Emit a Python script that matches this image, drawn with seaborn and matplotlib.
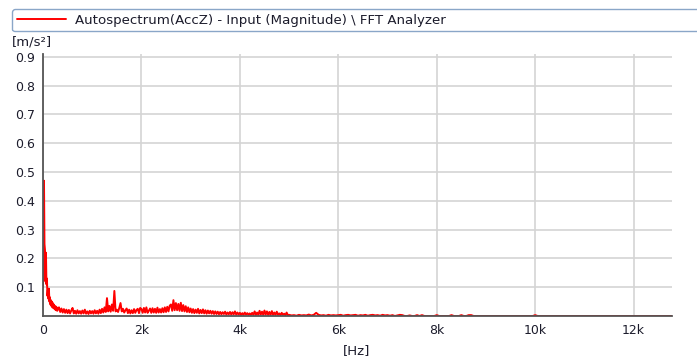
import numpy as np
import pandas as pd
import matplotlib
matplotlib.use("Agg")
import matplotlib.pyplot as plt
import seaborn as sns

# Autospectrum magnitude of AccZ, 10 Hz bins from 0 to 300 Hz
mag_0_300 = [
    0.1, 0.3, 0.47, 0.25, 0.23, 0.12, 0.22, 0.11, 0.13, 0.07,
    0.09, 0.06, 0.095, 0.05, 0.065, 0.04, 0.055, 0.035, 0.05, 0.03,
    0.045, 0.028, 0.04, 0.025, 0.035, 0.022, 0.033, 0.02, 0.03, 0.018,
]

# 25 Hz bins from 300 Hz to 5 kHz
mag_300_5k = [
    # 300 - 500 Hz
    0.025, 0.03, 0.014, 0.026, 0.012, 0.024, 0.011, 0.022,
    # 500 - 1000 Hz
    0.01, 0.021, 0.009, 0.019, 0.028, 0.009, 0.018, 0.008, 0.02, 0.009,
    0.017, 0.008, 0.019, 0.009, 0.022, 0.008, 0.016, 0.007, 0.018, 0.009,
    # 1000 - 1500 Hz
    0.017, 0.008, 0.02, 0.009, 0.018, 0.008, 0.022, 0.01, 0.025, 0.012,
    0.03, 0.014, 0.062, 0.016, 0.035, 0.015, 0.04, 0.018, 0.087, 0.016,
    # 1500 - 2000 Hz
    0.022, 0.014, 0.028, 0.045, 0.016, 0.025, 0.012, 0.02, 0.026, 0.01,
    0.022, 0.009, 0.02, 0.01, 0.024, 0.011, 0.021, 0.025, 0.01, 0.028,
    # 2000 - 2500 Hz
    0.024, 0.011, 0.028, 0.012, 0.03, 0.011, 0.018, 0.026, 0.011, 0.027,
    0.012, 0.025, 0.011, 0.029, 0.012, 0.024, 0.012, 0.027, 0.013, 0.03,
    # 2500 - 3000 Hz
    0.014, 0.032, 0.016, 0.036, 0.04, 0.018, 0.055, 0.02, 0.045, 0.02,
    0.042, 0.018, 0.046, 0.017, 0.038, 0.016, 0.034, 0.014, 0.03, 0.013,
    # 3000 - 3500 Hz
    0.026, 0.011, 0.024, 0.01, 0.022, 0.011, 0.025, 0.009, 0.021, 0.01,
    0.023, 0.009, 0.02, 0.008, 0.019, 0.009, 0.018, 0.008, 0.017, 0.007,
    # 3500 - 4000 Hz
    0.016, 0.007, 0.015, 0.006, 0.014, 0.006, 0.013, 0.007, 0.015, 0.005,
    0.012, 0.006, 0.014, 0.005, 0.013, 0.006, 0.016, 0.005, 0.012, 0.005,
    # 4000 - 4500 Hz
    0.011, 0.004, 0.01, 0.004, 0.012, 0.005, 0.01, 0.004, 0.009, 0.004,
    0.011, 0.004, 0.016, 0.004, 0.012, 0.004, 0.018, 0.005, 0.015, 0.004,
    # 4500 - 5000 Hz
    0.019, 0.005, 0.016, 0.004, 0.014, 0.004, 0.017, 0.004, 0.012, 0.004,
    0.015, 0.004, 0.009, 0.003, 0.011, 0.004, 0.008, 0.003, 0.012, 0.003,
]

# 50 Hz bins from 5 kHz to 9 kHz
mag_5_9k = [
    0.004, 0.002, 0.003, 0.001, 0.004, 0.002, 0.003, 0.002, 0.005, 0.002,
    0.004, 0.011, 0.004, 0.002, 0.003, 0.001, 0.004, 0.002, 0.003, 0.002,
    0.003, 0.004, 0.001, 0.003, 0.004, 0.002, 0.003, 0.004, 0.001, 0.003,
    0.002, 0.004, 0.001, 0.003, 0.004, 0.002, 0.003, 0.001, 0.004, 0.002,
    0.003, 0.001, 0.003, 0.0, 0.002, 0.004, 0.003, 0.0, 0.0, 0.002,
    0.0, 0.0, 0.003, 0.0, 0.003, 0.0, 0.0, 0.0, 0.0, 0.0,
    0.003, 0.0, 0.0, 0.0, 0.0, 0.0, 0.003, 0.0, 0.0, 0.0,
    0.003, 0.0, 0.0, 0.003, 0.003, 0.0, 0.0, 0.0, 0.0, 0.0,
]

# sparse tail up to the end of the analysis band
freq_tail = [9000, 9950, 10000, 10050, 12800]
mag_tail = [0.0, 0.0, 0.003, 0.0, 0.0]

freq_0_300 = np.arange(0, 300, 10)
freq_300_5k = np.arange(300, 5000, 25)
freq_5_9k = np.arange(5000, 9000, 50)

y_ticks = [0.1, 0.2, 0.3, 0.4, 0.5, 0.6, 0.7, 0.8, 0.9]
x_ticks = [0, 2000, 4000, 6000, 8000, 10000, 12000]
x_tick_labels = ["0", "2k", "4k", "6k", "8k", "10k", "12k"]

df = pd.DataFrame({
    "Hz": np.concatenate([freq_0_300, freq_300_5k, freq_5_9k, freq_tail]),
    "mag": np.concatenate([mag_0_300, mag_300_5k, mag_5_9k, mag_tail]),
})

sns.set_style("white")
plt.rcParams["font.family"] = ["DejaVu Sans"]

text_col = "#1c1c2c"
fig = plt.figure(figsize=(6.97, 3.6), dpi=100)
ax = fig.add_axes([43 / 697, 1 - 316 / 360, 629 / 697, 262 / 360])

sns.lineplot(data=df, x="Hz", y="mag", ax=ax, color="red", lw=1.4,
             label="Autospectrum(AccZ) - Input (Magnitude) \\ FFT Analyzer",
             zorder=2)

ax.set_xlim(0, 12780)
ax.set_ylim(0, 0.91)
ax.set_xticks(x_ticks)
ax.set_xticklabels(x_tick_labels)
ax.set_yticks(y_ticks)
ax.set_yticklabels([f"{v:.1f}" for v in y_ticks])
ax.grid(True, color="#d4d4d4", lw=1.2)
ax.set_axisbelow(True)

for side in ("top", "right"):
    ax.spines[side].set_visible(False)
for side in ("left", "bottom"):
    ax.spines[side].set_color("#555555")
    ax.spines[side].set_linewidth(1.3)
    ax.spines[side].set_zorder(3)

ax.tick_params(axis="both", direction="out", length=4, width=1,
               color="#555555", labelsize=9, labelcolor=text_col, pad=2)
ax.set_xlabel("")
ax.set_ylabel("")

fig.text(12 / 697, 1 - 42 / 360, "[m/s²]", fontsize=9.5, color=text_col,
         ha="left", va="center")
fig.text(357 / 697, 1 - 351 / 360, "[Hz]", fontsize=9.5, color=text_col,
         ha="center", va="center")

ax.legend_.remove()
handles, labels = ax.get_legend_handles_labels()
leg = fig.legend(handles, labels, loc="upper left",
                 bbox_to_anchor=(12 / 697, 1 - 30 / 360, 700 / 697, 21 / 360),
                 mode="expand", borderaxespad=0, fontsize=9.6,
                 handlelength=3.7, handletextpad=0.7, borderpad=0.35,
                 fancybox=True, framealpha=1, edgecolor="#8aa6c8")
leg.get_frame().set_linewidth(1.0)
for t in leg.get_texts():
    t.set_color(text_col)

fig.savefig("out.png", dpi=100)
